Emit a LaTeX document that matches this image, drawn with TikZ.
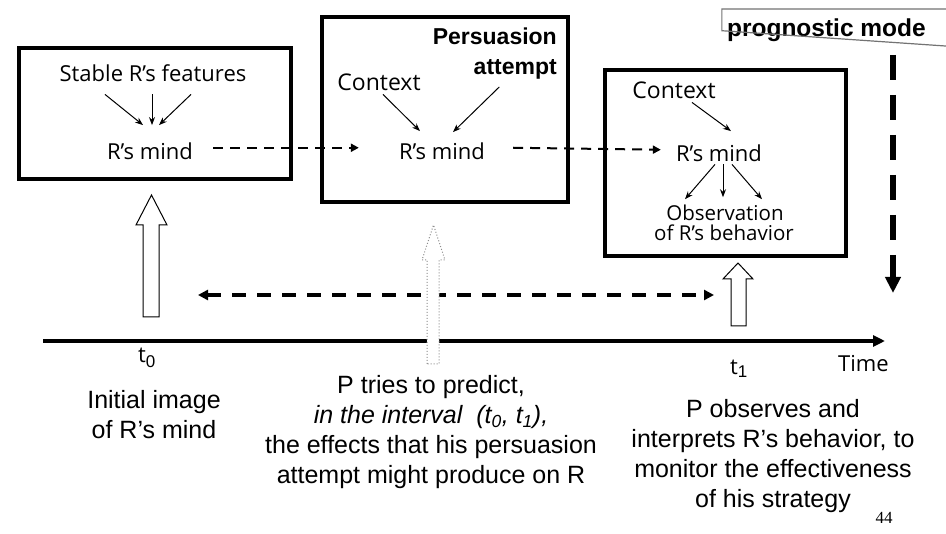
\documentclass[tikz,border=0pt]{standalone}
\usepackage{fontspec}
\setmainfont{Liberation Sans}
\newfontfamily\handfont{Open Sans}
\newfontfamily\pagefont{Liberation Serif}
\usetikzlibrary{arrows.meta,calc}

\tikzset{
  frame/.style={draw=black, line width=4pt},
  hand/.style={font=\handfont\fontsize{22}{26}\selectfont, inner sep=0pt, anchor=base},
  smallhand/.style={font=\handfont\fontsize{20.5}{24}\selectfont, inner sep=0pt, anchor=base},
  boldtxt/.style={font=\bfseries\fontsize{23}{28}\selectfont, inner sep=0pt, anchor=base east},
  caption/.style={font=\fontsize{25}{30}\selectfont, inner sep=0pt, anchor=base},
  thinarr/.style={line width=1pt, -{Stealth[length=8pt,width=6pt]}},
  boxlink/.style={line width=2pt, dash pattern=on 10pt off 7pt, -{Triangle[length=8pt,width=8pt]}},
  span/.style={line width=4pt, dash pattern=on 14pt off 11pt,
    {Triangle[length=10pt,width=10pt]}-{Triangle[length=10pt,width=10pt]}},
  progline/.style={line width=6pt, dash pattern=on 25pt off 15pt, -{Triangle[length=16pt,width=15pt]}},
  timeline/.style={line width=4pt, -{Triangle[length=12pt,width=11pt]}},
  blockarrow/.style={draw=black, line width=1pt, fill=white, line join=miter},
  ghostarrow/.style={draw=black!45, line width=1pt, dotted, fill=white},
}

\begin{document}
\begin{tikzpicture}[x=1pt, y=-1pt]
  \clip (0,0) rectangle (946,534);
  \useasboundingbox (0,0) rectangle (946,534);
  \fill[white] (0,0) rectangle (946,534);

  % ---- three snapshots of R's mind ----
  \draw[frame] (19,48) rectangle (291,179);
  \draw[frame] (322,17) rectangle (568,202);
  \draw[frame] (605,70) rectangle (846,256);

  % first box: initial image
  \node[hand] (feat) at (153,82) {Stable R’s features};
  \node[hand] (mindA) at (150,160) {R’s mind};
  \draw[thinarr] ($(feat.south)+(-48,12)$) -- ($(mindA.north)+(-7,-18)$);
  \draw[thinarr] ($(feat.south)+(-1,12)$) -- ($(mindA.north)+(2,-18)$);
  \draw[thinarr] ($(feat.south)+(38,12)$) -- ($(mindA.north)+(9,-18)$);

  % second box: persuasion attempt
  \node[boldtxt] (persA) at (557,45) {Persuasion};
  \node[boldtxt] (persB) at (557,75) {attempt};
  \node[hand, font=\handfont\fontsize{23}{27}\selectfont] (ctxB) at (379,91) {Context};
  \node[hand] (mindB) at (442,160) {R’s mind};
  \draw[thinarr] ($(ctxB.south)+(4,3)$) -- ($(mindB.north)+(-22,-12)$);
  \draw[thinarr] ($(persB.south)+(-16,7)$) -- ($(mindB.north)+(11,-11)$);

  % third box: observed behaviour
  \node[hand, font=\handfont\fontsize{23}{27}\selectfont] (ctxC) at (674,99) {Context};
  \node[hand] (mindC) at (719,162) {R’s mind};
  \node[smallhand] (obsA) at (725,221) {Observation};
  \node[smallhand] (obsB) at (724,241) {of R’s behavior};
  \draw[thinarr] ($(ctxC.south)+(18,3)$) -- ($(mindC.north)+(12,-14)$);
  \draw[thinarr] ($(mindC.south)+(-4,2)$) -- ($(obsA.north)+(-40,-6)$);
  \draw[thinarr] ($(mindC.south)+(4,2)$) -- ($(obsA.north)+(-2,-8)$);
  \draw[thinarr] ($(mindC.south)+(13,2)$) -- ($(obsA.north)+(37,-6)$);

  % links between the snapshots
  \draw[boxlink] ($(mindA.east)+(20,-4)$) -- ($(mindB.west)+(-40,-4)$);
  \draw[boxlink] ($(mindB.east)+(28,-4)$) -- ($(mindC.west)+(-15,-4)$);

  % ---- prognostic mode ----
  \node[font=\bfseries\fontsize{24.5}{28}\selectfont, inner sep=0pt, anchor=base east] (prog) at (926,37) {prognostic mode};
  \draw[black!55, line width=1.2pt] (960,9) -| ($(prog.west)+(-5,0)$ |- 0,47) -- (960,47);
  \coordinate (progtop) at (893,55);
  \coordinate (progend) at (893,293);
  \draw[progline] (progtop) -- (progend);

  % ---- time axis ----
  \coordinate (tstart) at (43,341);
  \coordinate (tend) at (885,341);
  \draw[timeline] (tstart) -- (tend);
  \coordinate (spanL) at (198,295);
  \coordinate (spanR) at (714,295);
  \draw[span] (spanL) -- (spanR);

  % block arrows rising from the axis
  \draw[blockarrow] (143,317) -- (143,225) -- (136,225) -- (151.5,195) -- (167,225) -- (159,225) -- (159,317) -- cycle;
  \draw[ghostarrow] (427,364) -- (427,260) -- (422,260) -- (433.5,225) -- (445,260) -- (439,260) -- (439,364) -- cycle;
  \draw[blockarrow] (731,326) -- (731,279) -- (723,279) -- (738,263) -- (753,279) -- (746,279) -- (746,326) -- cycle;

  % axis labels
  \node[hand, anchor=base west] (tzero) at (138,363) {t\raisebox{-5pt}{\rmfamily\fontsize{17}{17}\selectfont 0}};
  \node[hand, anchor=base west] (tone) at (730,375) {t\raisebox{-3pt}{\rmfamily\fontsize{17}{17}\selectfont 1}};
  \node[hand, anchor=base west] (timelbl) at (838,372) {Time};

  % ---- captions ----
  \node[caption] (capA1) at (154,409) {Initial image};
  \node[caption] (capA2) at (154,439) {of R’s mind};

  \node[caption] (capB1) at (431,394) {P tries to predict,};
  \node[caption] (capB2) at (431,424) {\itshape in the interval\ \ (t\textsubscript{0}, t\textsubscript{1}),};
  \node[caption] (capB3) at (431,454) {the effects that his persuasion};
  \node[caption] (capB4) at (431,484) {attempt might produce on R};

  \node[caption] (capC1) at (773,418) {P observes and};
  \node[caption] (capC2) at (773,448) {interprets R’s behavior, to};
  \node[caption] (capC3) at (773,478) {monitor the effectiveness};
  \node[caption] (capC4) at (773,508) {of his strategy};

  \node[font=\pagefont\fontsize{17}{20}\selectfont, inner sep=0pt, anchor=base] (pagenum) at (884,524) {44};
\end{tikzpicture}
\end{document}
